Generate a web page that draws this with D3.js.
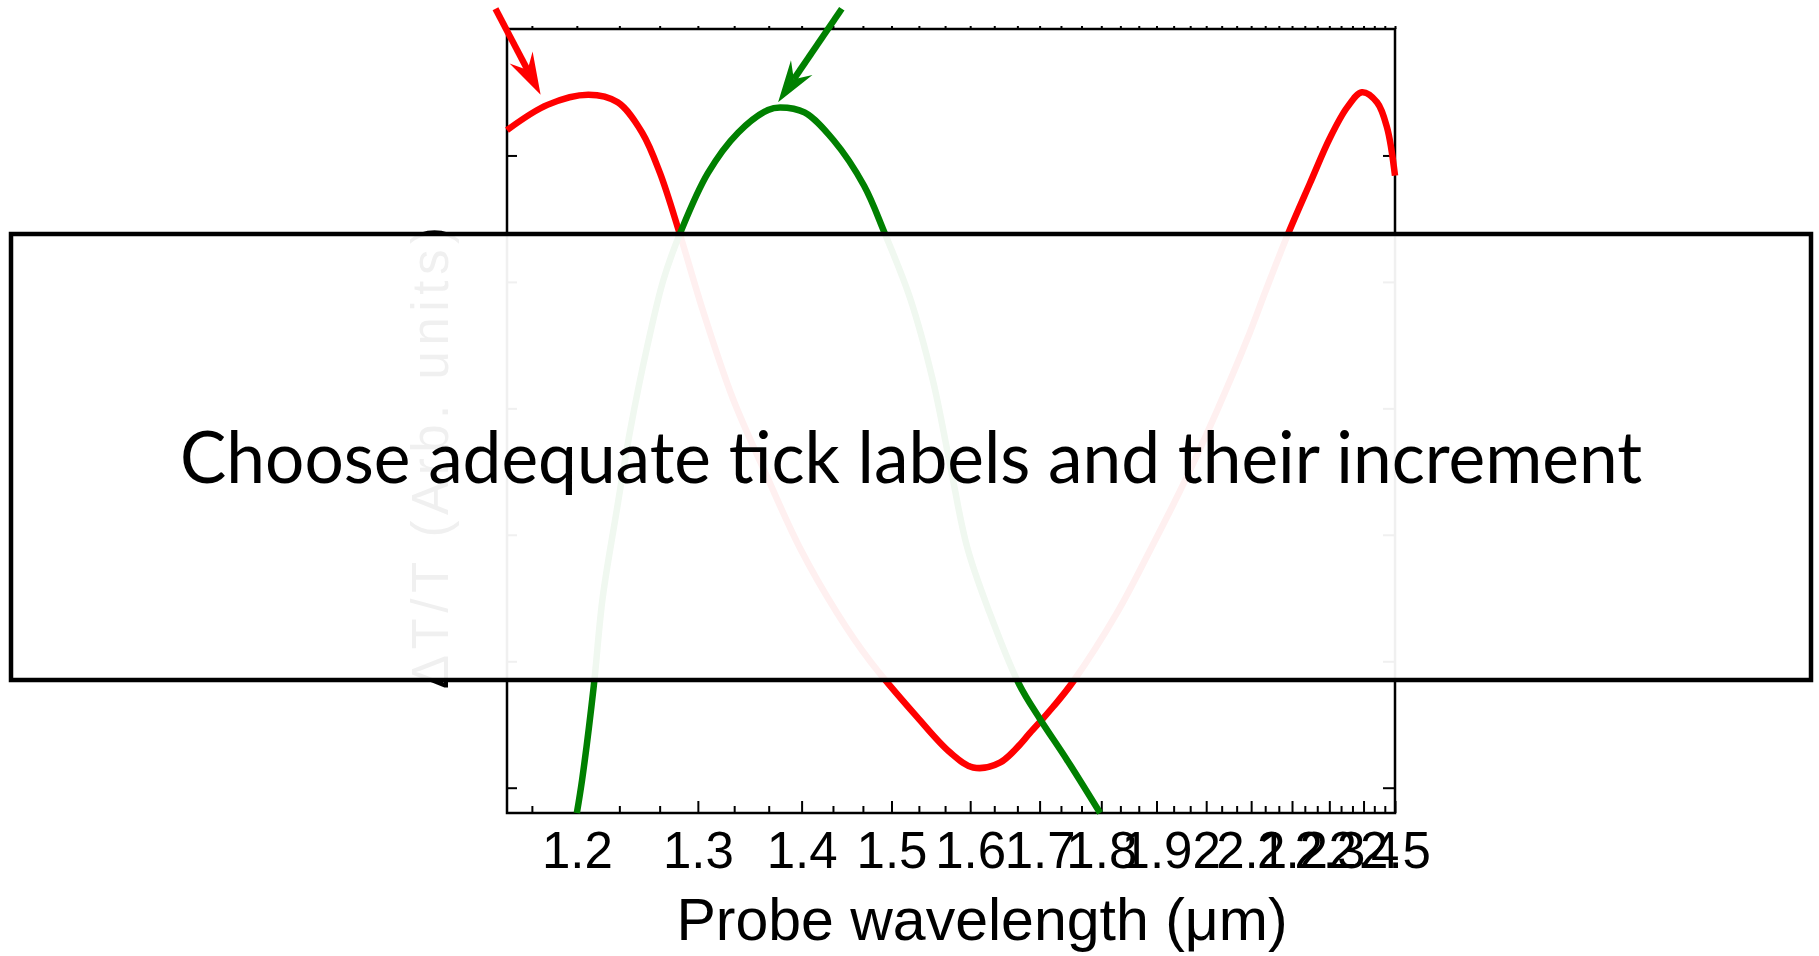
<!DOCTYPE html>
<html>
<head>
<meta charset="utf-8">
<script src="https://cdn.jsdelivr.net/npm/d3@7"></script>
<style>
  body { margin: 0; background: #fff; }
  svg { display: block; }
</style>
</head>
<body>
<script>
/* eslint-disable */

// ----- data -----
// wavelength in um, signal in arb. units
const redWavelength = [1.149, 1.178, 1.209, 1.232, 1.252, 1.267, 1.284, 1.305, 1.332, 1.365, 1.398, 1.438,
  1.475, 1.531, 1.573, 1.604, 1.642, 1.690, 1.721, 1.753, 1.827, 1.888, 1.960, 2.023, 2.090, 2.138,
  2.190, 2.247, 2.302, 2.351, 2.395, 2.442, 2.474, 2.5];
const redSignal = [1.60, 1.70, 1.74, 1.71, 1.59, 1.43, 1.19, 0.88, 0.54, 0.23, -0.05, -0.31,
  -0.50, -0.72, -0.86, -0.92, -0.90, -0.77, -0.68, -0.58, -0.31, -0.06, 0.23, 0.49, 0.77, 0.98,
  1.19, 1.39, 1.57, 1.69, 1.75, 1.71, 1.61, 1.42];

const greenWavelength = [1.200, 1.204, 1.213, 1.220, 1.231, 1.242, 1.256, 1.270, 1.285, 1.309, 1.337,
  1.366, 1.378, 1.403, 1.434, 1.468, 1.491, 1.522, 1.551, 1.573, 1.596, 1.627, 1.669, 1.701, 1.743, 1.798];
const greenSignal = [-1.10, -0.97, -0.60, -0.25, 0.09, 0.41, 0.74, 1.01, 1.20, 1.43, 1.59,
  1.68, 1.69, 1.67, 1.56, 1.38, 1.20, 0.94, 0.61, 0.28, -0.05, -0.31, -0.59, -0.73, -0.89, -1.10];

const tickLabels = [1.2, 1.3, 1.4, 1.5, 1.6, 1.7, 1.8, 1.9, 2.0, 2.1, 2.2, 2.3, 2.4, 2.5];
const yTickValues = [-1, -0.5, 0, 0.5, 1, 1.5];

// arrows: [tail, tip] as [wavelength, signal]
const redArrow = [[1.141, 2.08], [1.173, 1.74]];
const greenArrow = [[1.443, 2.08], [1.376, 1.71]];

const xTitle = 'Probe wavelength (\u03bcm)';
const yTitle = '\u0394T/T (Arb. units)';
const note = 'Choose adequate tick labels and their increment';


document.addEventListener('DOMContentLoaded', (event) => {

  //  ----- creates svg -----
  const svg = d3.select('body')
    .append('svg')
    .attr('width', 1819)
    .attr('height', 956);

  const left = 507, right = 1395, top = 29, bottom = 813;

  // the x axis is linear in 1/lambda (energy) but labelled in wavelength
  const xE = d3.scaleLinear()
    .domain([1 / 1.149, 1 / 2.5])
    .range([left, right]);
  const x = (l) => xE(1 / l);

  const y = d3.scaleLinear()
    .domain([-1.1, 2.0])
    .range([bottom, top]);

  // two minor ticks in every interval
  const minorTicks = [tickLabels[0] - 0.1 / 3];
  for (let i = 0; i < tickLabels.length - 1; i++) {
    const a = tickLabels[i], b = tickLabels[i + 1];
    minorTicks.push(a + (b - a) / 3, a + 2 * (b - a) / 3);
  }

  //  ----- axes -----
  const fmt = (d) => {
    const l = Math.round(1 / d * 10) / 10;
    return l === 2 ? '2' : l.toFixed(1);
  };

  const xMajor = svg.append('g')
    .attr('transform', `translate(0, ${bottom})`)
    .call(d3.axisBottom(xE)
      .tickValues(tickLabels.map(l => 1 / l))
      .tickFormat(fmt)
      .tickSizeInner(-12)
      .tickSizeOuter(0)
      .tickPadding(19));

  xMajor.selectAll('text')
    .attr('font-family', '"Liberation Sans", Arial, sans-serif')
    .attr('font-size', 51)
    .attr('fill', '#000');

  svg.append('g')
    .attr('transform', `translate(0, ${bottom})`)
    .call(d3.axisBottom(xE)
      .tickValues(minorTicks.map(l => 1 / l))
      .tickFormat('')
      .tickSizeInner(-7)
      .tickSizeOuter(0));

  svg.append('g')
    .attr('transform', `translate(0, ${top})`)
    .call(d3.axisTop(xE)
      .tickValues(tickLabels.concat(minorTicks).map(l => 1 / l))
      .tickFormat('')
      .tickSizeInner(3)
      .tickSizeOuter(0));

  svg.append('g')
    .attr('transform', `translate(${left}, 0)`)
    .call(d3.axisLeft(y)
      .tickValues(yTickValues)
      .tickFormat('')
      .tickSizeInner(-10)
      .tickSizeOuter(0));

  svg.append('g')
    .attr('transform', `translate(${right}, 0)`)
    .call(d3.axisRight(y)
      .tickValues(yTickValues)
      .tickFormat('')
      .tickSizeInner(-12)
      .tickSizeOuter(0));

  svg.selectAll('.domain').remove();
  svg.selectAll('.tick line')
    .attr('stroke', '#000')
    .attr('stroke-width', 2);

  // frame
  svg.append('rect')
    .attr('x', left)
    .attr('y', top)
    .attr('width', right - left)
    .attr('height', bottom - top)
    .attr('fill', 'none')
    .attr('stroke', '#000')
    .attr('stroke-width', 2.5);

  //  ----- curves -----
  const line = d3.line()
    .x(d => x(d[0]))
    .y(d => y(d[1]))
    .curve(d3.curveCatmullRom.alpha(0.5));

  svg.append('path')
    .datum(redWavelength.map((l, i) => [l, redSignal[i]]))
    .attr('d', line)
    .attr('fill', 'none')
    .attr('stroke', '#ff0000')
    .attr('stroke-width', 6.5)
    .attr('stroke-linejoin', 'round');

  svg.append('path')
    .datum(greenWavelength.map((l, i) => [l, greenSignal[i]]))
    .attr('d', line)
    .attr('fill', 'none')
    .attr('stroke', '#008000')
    .attr('stroke-width', 6.5)
    .attr('stroke-linejoin', 'round');

  //  ----- arrows -----
  const drawArrow = (pts, color) => {
    const [x0, y0] = [x(pts[0][0]), y(pts[0][1])];
    const [x1, y1] = [x(pts[1][0]), y(pts[1][1])];
    const len = Math.hypot(x1 - x0, y1 - y0);
    const dx = (x1 - x0) / len, dy = (y1 - y0) / len;
    const nx = -dy, ny = dx;
    const L = 42, w = 13, notch = 28;
    svg.append('line')
      .attr('x1', x0).attr('y1', y0)
      .attr('x2', x1 - dx * notch).attr('y2', y1 - dy * notch)
      .attr('stroke', color)
      .attr('stroke-width', 6.5);
    const head = [
      [x1, y1],
      [x1 - dx * L + nx * w, y1 - dy * L + ny * w],
      [x1 - dx * notch, y1 - dy * notch],
      [x1 - dx * L - nx * w, y1 - dy * L - ny * w]
    ];
    svg.append('path')
      .attr('d', 'M' + head.join('L') + 'Z')
      .attr('fill', color);
  };
  drawArrow(redArrow, '#ff0000');
  drawArrow(greenArrow, '#008000');

  //  ----- titles -----
  svg.append('text')
    .attr('x', 982)
    .attr('y', 940)
    .attr('text-anchor', 'middle')
    .attr('font-family', '"Liberation Sans", Arial, sans-serif')
    .attr('font-size', 59)
    .text(xTitle);

  svg.append('text')
    .attr('transform', 'translate(448, 458) rotate(-90)')
    .attr('text-anchor', 'middle')
    .attr('font-family', '"Liberation Sans", Arial, sans-serif')
    .attr('font-size', 51)
    .attr('textLength', 462)
    .attr('lengthAdjust', 'spacing')
    .text(yTitle);

  //  ----- the note box laid over the chart -----
  svg.append('rect')
    .attr('x', 11)
    .attr('y', 234)
    .attr('width', 1800)
    .attr('height', 446)
    .attr('fill', '#fff')
    .attr('fill-opacity', 0.94)
    .attr('stroke', '#000')
    .attr('stroke-width', 4.5);

  svg.append('text')
    .attr('x', 911)
    .attr('y', 483)
    .attr('text-anchor', 'middle')
    .attr('font-family', 'Lato, "Open Sans", sans-serif')
    .attr('font-size', 72)
    .attr('textLength', 1462)
    .attr('lengthAdjust', 'spacingAndGlyphs')
    .text(note);

});
</script>
</body>
</html>
